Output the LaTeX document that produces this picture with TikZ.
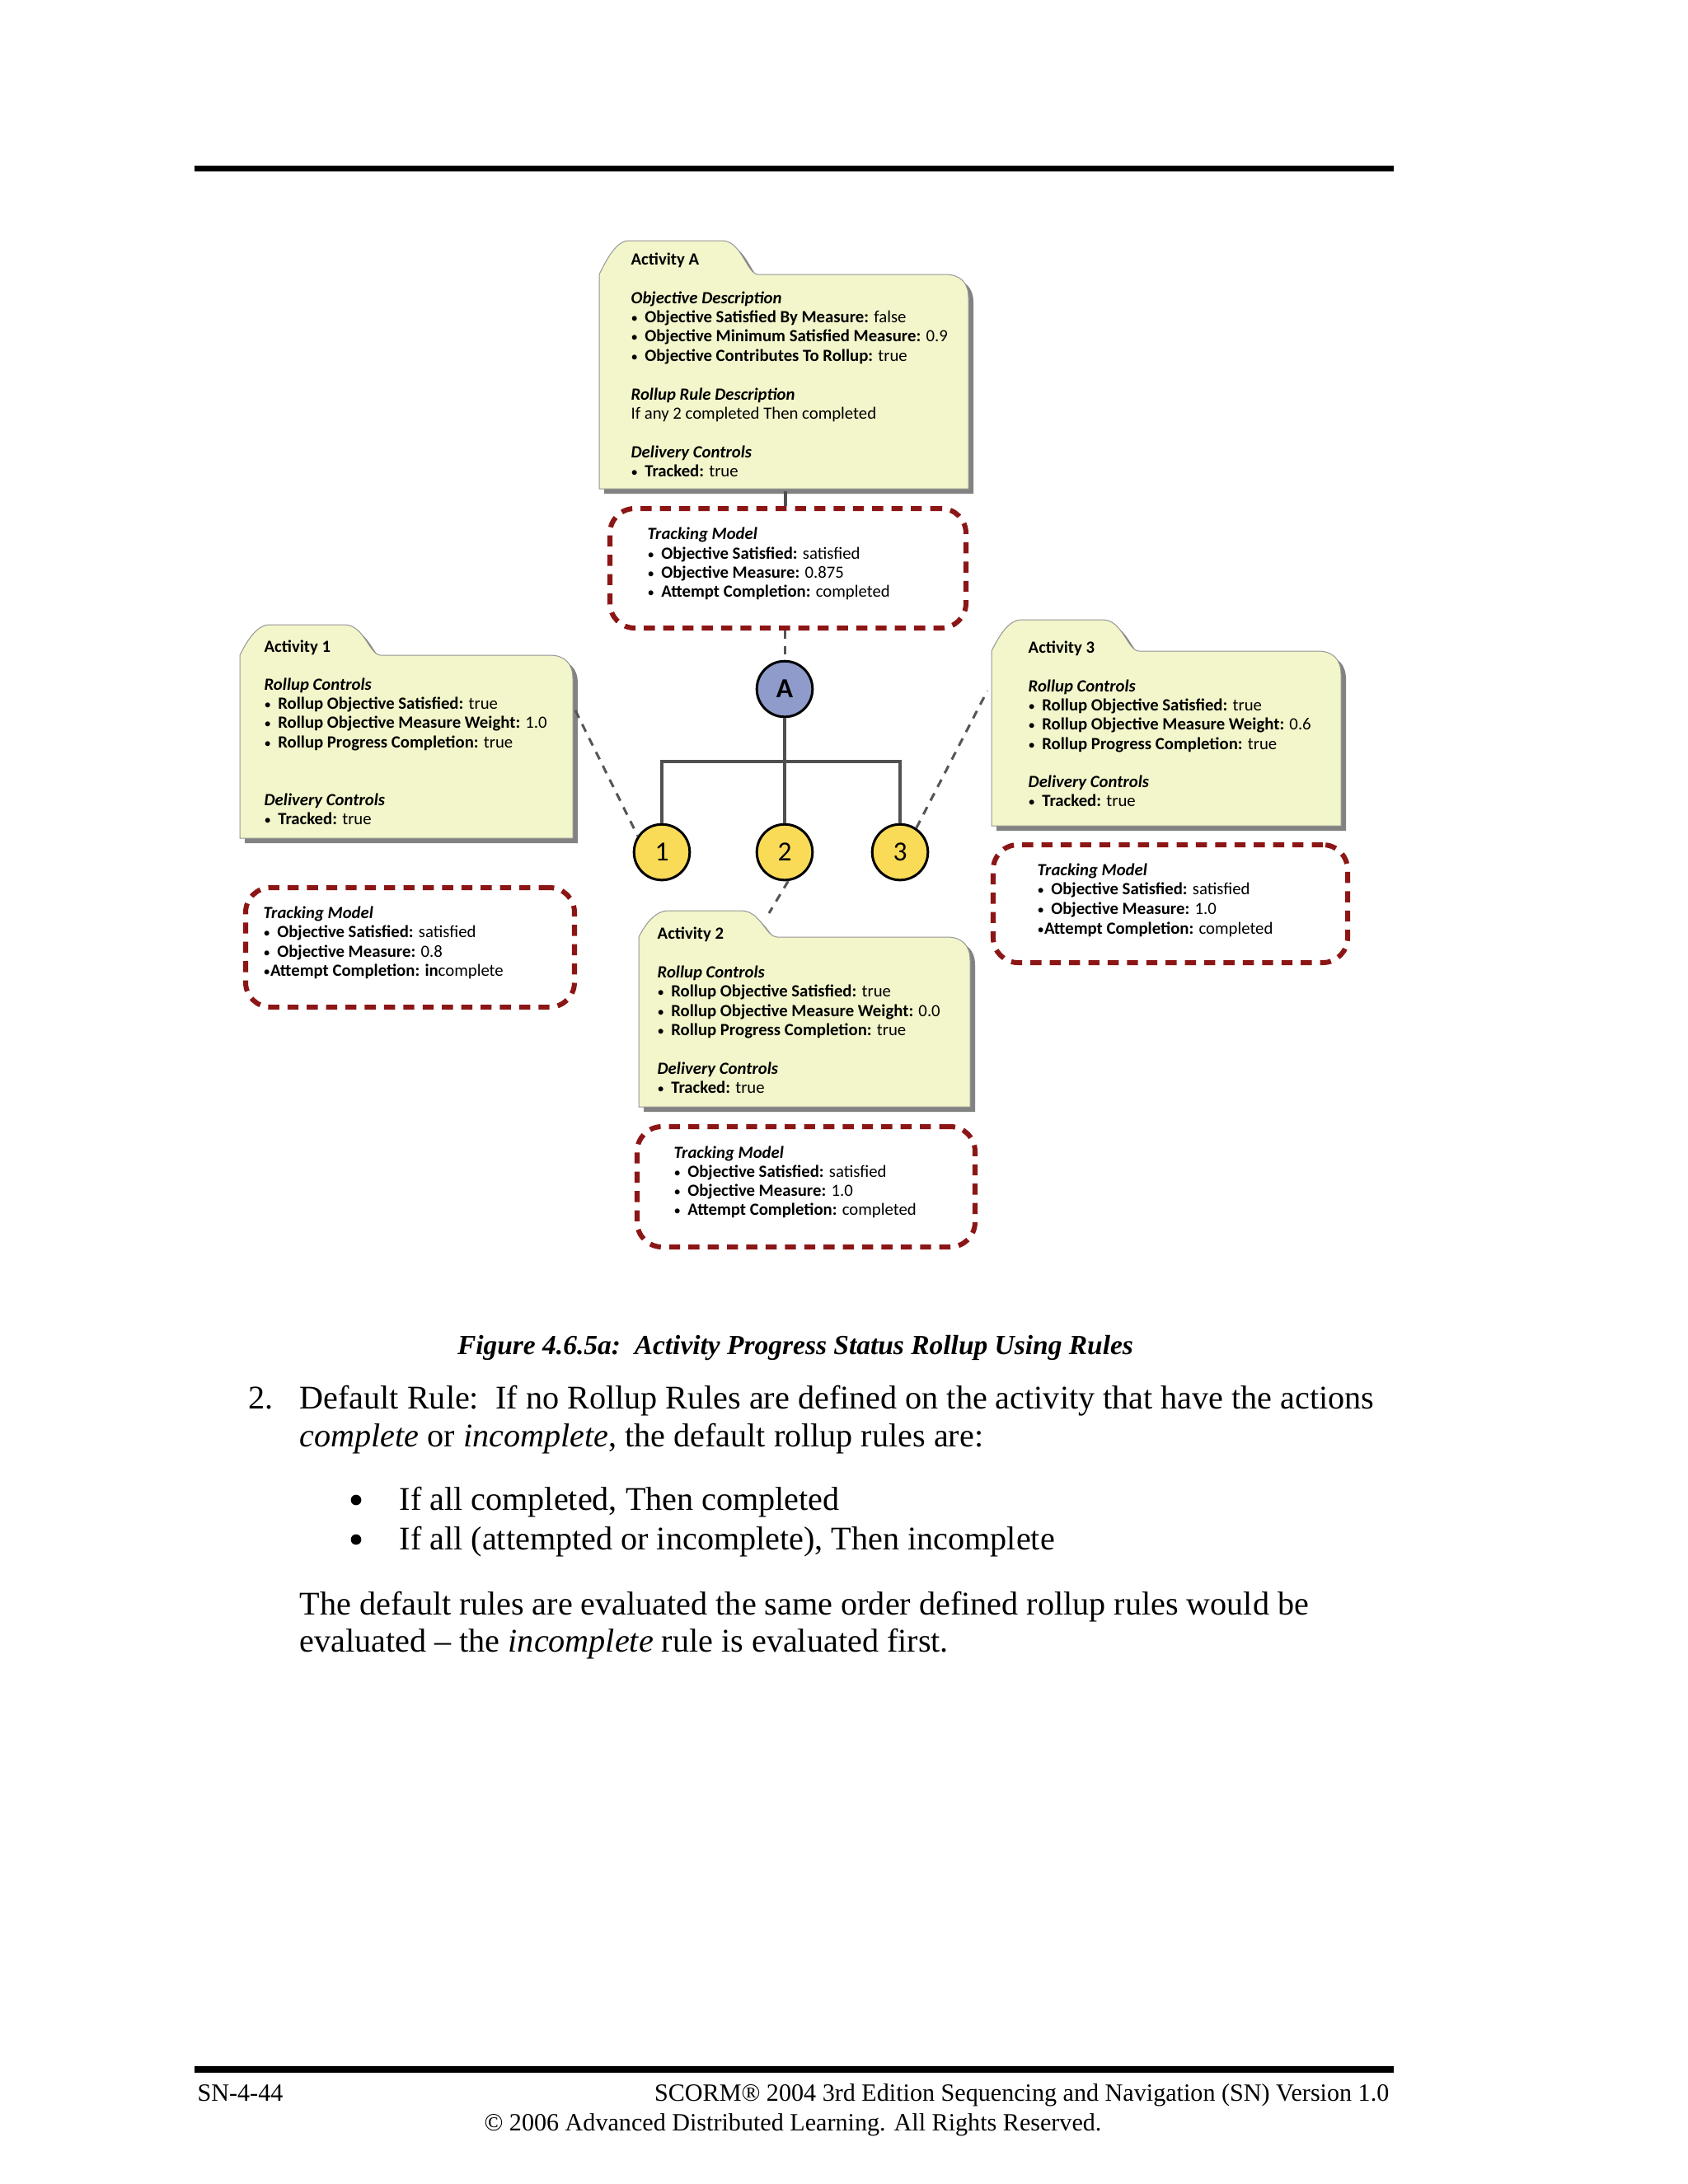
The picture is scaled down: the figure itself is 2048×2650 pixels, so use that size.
\documentclass[tikz,border=0pt]{standalone}
\usepackage{fontspec}
\setmainfont{Liberation Serif}
\newfontfamily\diag{Carlito}
\usetikzlibrary{fit}
\definecolor{folderfill}{RGB}{243,245,202}
\definecolor{shadowc}{RGB}{130,130,130}
\definecolor{folderline}{RGB}{150,150,150}
\definecolor{trackred}{RGB}{140,22,22}
\definecolor{nodeblue}{RGB}{143,155,203}
\definecolor{nodeyellow}{RGB}{250,219,88}
\definecolor{dashgray}{RGB}{85,85,85}
\definecolor{treegray}{RGB}{80,80,80}
\tikzset{
  lab/.style={font=\diag\fontsize{6.2}{7}\selectfont, inner sep=0pt, anchor=base west, text=black},
  folderst/.style={fill=folderfill, draw=folderline, line width=0.3pt},
  track/.style={draw=trackred, line width=1.8pt, dash pattern=on 4pt off 3pt, rounded corners=9pt, inner sep=0pt},
  circ/.style={circle, draw=black, line width=0.9pt, minimum size=20.2pt, inner sep=0pt, font=\diag\fontsize{10}{11}\selectfont},
  tree/.style={draw=treegray, line width=1.2pt},
  conn/.style={draw=dashgray, line width=0.9pt, dash pattern=on 3pt off 2.6pt},
  body/.style={font=\fontsize{12}{14}\selectfont, inner sep=0pt, anchor=base west},
  foot/.style={font=\fontsize{9}{11}\selectfont, inner sep=0pt},
}
\newcommand\fpath[6]{(#1,#4) -- (#1,#2) .. controls ({#1+8},{#2-16}) and ({#1+20},#5) .. ({#1+36},#5) -- ({#6-44},#5) .. controls ({#6-20},#5) and ({#6-14},#2) .. (#6,#2) -- ({#3-28},#2) .. controls ({#3-10},#2) and (#3,{#2+10}) .. (#3,{#2+28}) -- (#3,#4) -- cycle}
\newcommand\drawfolder[6]{%
  \begin{scope}[shift={(6,6)}]\fill[shadowc] \fpath{#1}{#2}{#3}{#4}{#5}{#6};\end{scope}
  \filldraw[folderst] \fpath{#1}{#2}{#3}{#4}{#5}{#6};}
\newcommand\tl[4]{\node[lab] (#1) at (#2,#3) {#4};}
\newcommand\bu{{\fontsize{5}{6}\selectfont•}\hspace{0.4em}}
\newcommand\bun{{\fontsize{5}{6}\selectfont•}}
\newcommand\hd[1]{\textbf{\textit{#1}}}
\begin{document}
\begin{tikzpicture}[x=0.29883pt, y=-0.29883pt]
\useasboundingbox (0,0) rectangle (2048,2650);
\fill[white] (0,0) rectangle (2048,2650);
% rules
\fill[black] (236,201) rectangle (1691,208);
\fill[black] (236,2507) rectangle (1691,2515);

% ---------- folders
\drawfolder{727}{333}{1175}{593}{292}{920}
\node[fit={(727,333) (1175,593)}, inner sep=0pt] (fA) {};
\drawfolder{291}{795}{695}{1017}{758}{462}
\node[fit={(291,795) (695,1017)}, inner sep=0pt] (f1) {};
\drawfolder{1203}{790}{1627}{1002}{752}{1382}
\node[fit={(1203,790) (1627,1002)}, inner sep=0pt] (f3) {};
\drawfolder{775}{1137}{1177}{1343}{1105}{943}
\node[fit={(775,1137) (1177,1343)}, inner sep=0pt] (f2) {};

% ---------- tracking models
\node[track, fit={(740,617) (1172,762)}] (tmA) {};
\node[track, fit={(298,1077) (697,1222)}] (tm1) {};
\node[track, fit={(1205,1025) (1635,1168)}] (tm3) {};
\node[track, fit={(773,1367) (1183,1513)}] (tm2) {};

% ---------- tree
\node[circ, fill=nodeblue, font=\diag\bfseries\fontsize{10}{11}\selectfont] (nA) at (952,836) {A};
\node[circ, fill=nodeyellow] (n1) at (803,1034) {1};
\node[circ, fill=nodeyellow] (n2) at (952,1034) {2};
\node[circ, fill=nodeyellow] (n3) at (1092,1034) {3};
\coordinate (bar) at (952,924);
\draw[tree] (nA) -- (n2);
\draw[tree] (n1) |- (bar) -| (n3);

% ---------- connectors
\draw[draw=treegray, line width=1pt] (fA.south) ++(2,2) coordinate (fAs) -- (fAs |- tmA.north);
\draw[conn] (nA.north |- tmA.south) -- (nA.north);
\coordinate (c1) at (698,862);
\draw[conn] (c1) -- (n1.146);
\coordinate (c3) at (1198,838);
\draw[conn] (n3.56) -- (c3);
\coordinate (c2) at (933,1108);
\draw[conn] (n2.-83) -- (c2);

% ---------- Activity A text
\tl{aA1}{765}{321}{\textbf{Activity A}}
\tl{aA2}{765}{368}{\hd{Objective Description}}
\tl{aA3}{765}{391}{\bu\textbf{Objective Satisfied By Measure:} false}
\tl{aA4}{765}{414}{\bu\textbf{Objective Minimum Satisfied Measure:} 0.9}
\tl{aA5}{765}{438}{\bu\textbf{Objective Contributes To Rollup:} true}
\tl{aA6}{765}{485}{\hd{Rollup Rule Description}}
\tl{aA7}{765}{508}{If any 2 completed Then completed}
\tl{aA8}{765}{555}{\hd{Delivery Controls}}
\tl{aA9}{765}{578}{\bu\textbf{Tracked:} true}
\tl{tA1}{785}{654}{\hd{Tracking Model}}
\tl{tA2}{785}{678}{\bu\textbf{Objective Satisfied:} satisfied}
\tl{tA3}{785}{701}{\bu\textbf{Objective Measure:} 0.875}
\tl{tA4}{785}{724}{\bu\textbf{Attempt Completion:} completed}

% ---------- Activity 1 text
\tl{a11}{320}{791}{\textbf{Activity 1}}
\tl{a12}{320}{837}{\hd{Rollup Controls}}
\tl{a13}{320}{860}{\bu\textbf{Rollup Objective Satisfied:} true}
\tl{a14}{320}{883}{\bu\textbf{Rollup Objective Measure Weight:} 1.0}
\tl{a15}{320}{907}{\bu\textbf{Rollup Progress Completion:} true}
\tl{a16}{320}{977}{\hd{Delivery Controls}}
\tl{a17}{320}{1000}{\bu\textbf{Tracked:} true}
\tl{t11}{319}{1114}{\hd{Tracking Model}}
\tl{t12}{319}{1137}{\bu\textbf{Objective Satisfied:} satisfied}
\tl{t13}{319}{1161}{\bu\textbf{Objective Measure:} 0.8}
\tl{t14}{319}{1184}{\bun\textbf{Attempt Completion: in}complete}

% ---------- Activity 3 text
\tl{a31}{1247}{792}{\textbf{Activity 3}}
\tl{a32}{1247}{839}{\hd{Rollup Controls}}
\tl{a33}{1247}{862}{\bu\textbf{Rollup Objective Satisfied:} true}
\tl{a34}{1247}{885}{\bu\textbf{Rollup Objective Measure Weight:} 0.6}
\tl{a35}{1247}{909}{\bu\textbf{Rollup Progress Completion:} true}
\tl{a36}{1247}{955}{\hd{Delivery Controls}}
\tl{a37}{1247}{978}{\bu\textbf{Tracked:} true}
\tl{t31}{1258}{1062}{\hd{Tracking Model}}
\tl{t32}{1258}{1085}{\bu\textbf{Objective Satisfied:} satisfied}
\tl{t33}{1258}{1109}{\bu\textbf{Objective Measure:} 1.0}
\tl{t34}{1258}{1133}{\bun\textbf{Attempt Completion:} completed}

% ---------- Activity 2 text
\tl{a21}{797}{1139}{\textbf{Activity 2}}
\tl{a22}{797}{1186}{\hd{Rollup Controls}}
\tl{a23}{797}{1209}{\bu\textbf{Rollup Objective Satisfied:} true}
\tl{a24}{797}{1233}{\bu\textbf{Rollup Objective Measure Weight:} 0.0}
\tl{a25}{797}{1256}{\bu\textbf{Rollup Progress Completion:} true}
\tl{a26}{797}{1303}{\hd{Delivery Controls}}
\tl{a27}{797}{1326}{\bu\textbf{Tracked:} true}
\tl{t21}{817}{1405}{\hd{Tracking Model}}
\tl{t22}{817}{1428}{\bu\textbf{Objective Satisfied:} satisfied}
\tl{t23}{817}{1451}{\bu\textbf{Objective Measure:} 1.0}
\tl{t24}{817}{1474}{\bu\textbf{Attempt Completion:} completed}

% ---------- body text
\node[body, anchor=base, font=\fontsize{10}{12}\selectfont] (cap) at (965,1643) {\textbf{\textit{Figure 4.6.5a:\ \ Activity Progress Status Rollup Using Rules}}};
\node[body] (p1n) at (301,1709) {2.};
\node[body] (p1a) at (363,1709) {Default Rule:\ \ If no Rollup Rules are defined on the activity that have the actions};
\node[body] (p1b) at (363,1755) {\textit{complete} or \textit{incomplete}, the default rollup rules are:};
\fill[black] (432,1820) circle (1.9pt);
\node[body] (b1) at (484,1832) {If all completed, Then completed};
\fill[black] (432,1868) circle (1.9pt);
\node[body] (b2) at (484,1880) {If all (attempted or incomplete), Then incomplete};
\node[body] (p2a) at (363,1959) {The default rules are evaluated the same order defined rollup rules would be};
\node[body] (p2b) at (363,2004) {evaluated -- the \textit{incomplete} rule is evaluated first.};

% ---------- footer
\node[foot, anchor=base west] (fl) at (239,2549) {SN-4-44};
\node[foot, anchor=base east] (fr) at (1686,2549) {SCORM® 2004 3rd Edition Sequencing and Navigation (SN) Version 1.0};
\node[foot, anchor=base] (fc) at (962,2585) {© 2006 Advanced Distributed Learning. All Rights Reserved.};
\end{tikzpicture}
\end{document}
